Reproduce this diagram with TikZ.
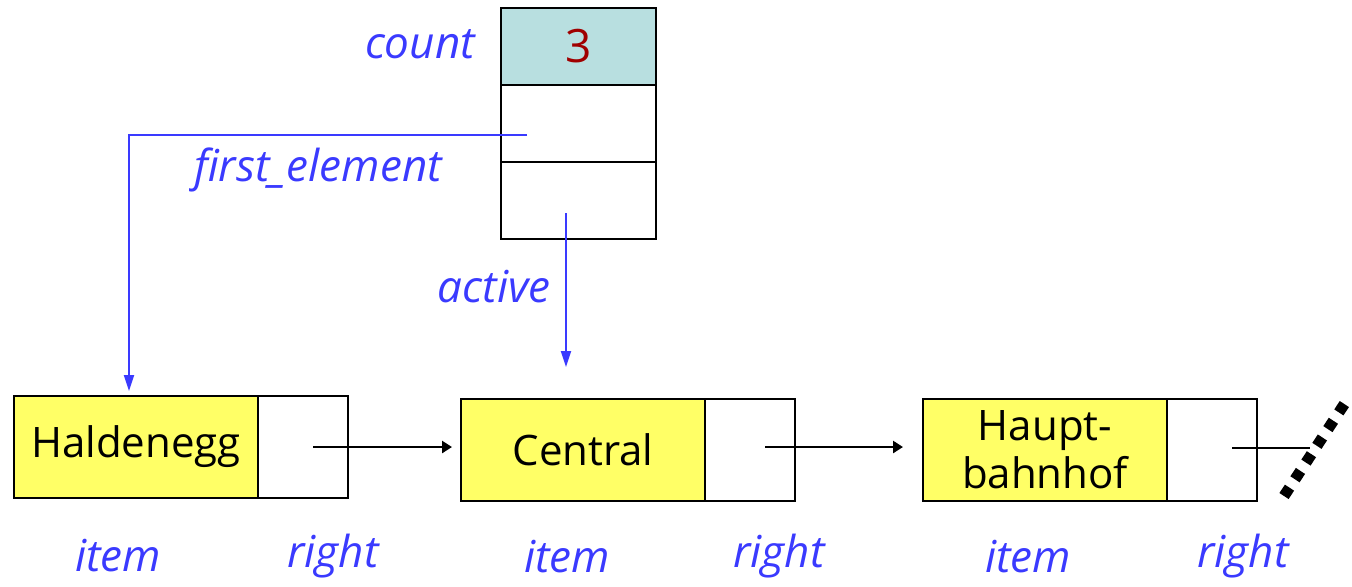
\documentclass[tikz,border=0pt]{standalone}
\usepackage{fontspec}
\setmainfont{Open Sans}
\usetikzlibrary{arrows.meta,calc}
\definecolor{lblue}{HTML}{3A3AFF}
\definecolor{cellcyan}{HTML}{B8DFE0}
\definecolor{itemyellow}{HTML}{FFFF66}
\definecolor{numred}{HTML}{A00000}
\begin{document}
\begin{tikzpicture}[x=0.5pt,y=-0.5pt,
  cell/.style={draw=black,line width=1pt,minimum height=51pt,inner sep=0pt,font=\fontsize{21}{23}\selectfont,align=center},
  itemcell/.style={cell,fill=itemyellow,minimum width=122pt},
  rightcell/.style={cell,fill=white,minimum width=45pt},
  topcell/.style={draw=black,line width=1pt,minimum width=77.5pt,minimum height=38.5pt,inner sep=0pt},
  lbl/.style={text=lblue,font=\itshape\fontsize{22}{24}\selectfont},
  bluearrow/.style={draw=lblue,line width=1pt,-{Triangle[length=8pt,width=5pt]}},
  blackarrow/.style={draw=black,line width=1.4pt,-{Triangle[length=5pt,width=6pt]}}]
\useasboundingbox (0,0) rectangle (1352,586);
% top object
\node[topcell,fill=cellcyan,text=numred,font=\fontsize{23}{25}\selectfont] (cnt) at (578.5,46) {3};
\node[topcell,fill=white] (fe) at (578.5,123) {};
\node[topcell,fill=white] (act) at (578.5,200) {};
\node[lbl,anchor=east] (lcount) at (482,44) {count};
\node[lbl] (lfirst) at (318,170) {first\_element};
\node[lbl] (lactive) at (494,287) {active};
% bottom cells
\node[itemcell] (i1) at (136,447) {Haldenegg};
\node[rightcell] (r1) at (303,447) {};
\node[itemcell] (i2) at (583,450) {Central};
\node[rightcell] (r2) at (750,450) {};
\node[itemcell,font=\fontsize{21}{24}\selectfont] (i3) at (1045,449.5) {Haupt-\\bahnhof};
\node[rightcell] (r3) at (1212,449.5) {};
% labels below
\node[lbl] (li1) at (118,556) {item};
\node[lbl] (lr1) at (333,556) {right};
\node[lbl] (li2) at (567,557) {item};
\node[lbl] (lr2) at (779,556) {right};
\node[lbl] (li3) at (1028,557) {item};
\node[lbl] (lr3) at (1243,556) {right};
% connector points
\coordinate (feP) at (527,135);
\coordinate (h1top) at (129,391);
\coordinate (actP) at (566,213);
\coordinate (c2top) at (566,367);
\coordinate (r1P) at (313,447);
\coordinate (i2L) at (452,447);
\coordinate (r2P) at (765,447);
\coordinate (i3L) at (903,447);
\coordinate (r3P) at (1232,448);
\coordinate (voidP) at (1310,448);
\coordinate (v1) at (1284,496);
\coordinate (v2) at (1345,403);
% connectors
\draw[bluearrow] (feP) -| (h1top);
\draw[bluearrow] (actP) -- (c2top);
\draw[blackarrow] (r1P) -- (i2L);
\draw[blackarrow] (r2P) -- (i3L);
\draw[draw=black,line width=1pt] (r3P) -- (voidP);
\draw[draw=black,line width=5.5pt,dash pattern=on 5pt off 5pt] (v1) -- (v2);
\end{tikzpicture}
\end{document}
